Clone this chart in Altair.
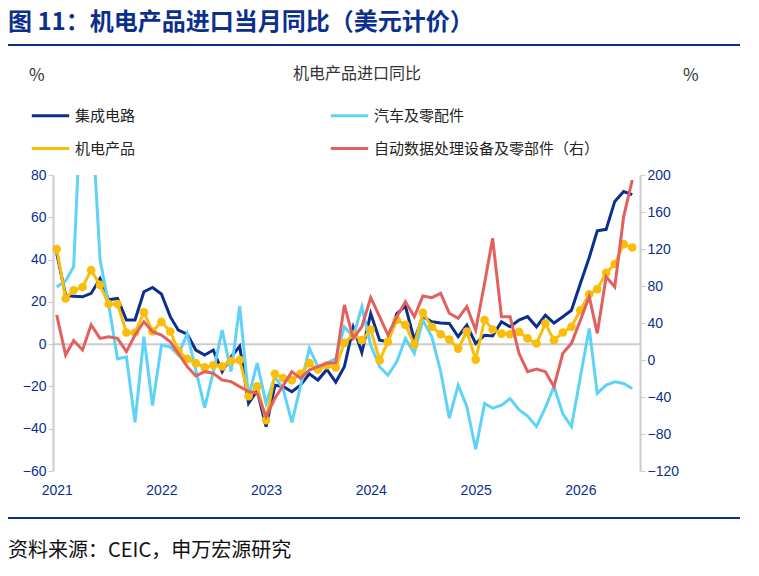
import altair as alt
import pandas as pd

months = pd.date_range("2021-01-01", periods=67, freq="MS")

# 集成电路 (left axis, %)
ic = [43, 23, 22.7, 22.4, 24, 31, 21, 21.6, 11.4, 11.4, 24.8, 26.8, 23.7, 13, 6.6, 4.7,
      -2.8, -5.2, -2.8, -13, -6, -1, -28, -22, -39, -19.4, -20, -22.5, -19.4, -14, -17, -12,
      -18, -10.7, 8, -4, 14.5, 1.9, 1.1, 14.5, 18, 1.9, 13, 10.6, 10, 9.8, 3.5, 9, 0.3, 4.2,
      3.9, 10.6, 8.2, 11.4, 13, 8.2, 13.7, 10, 13, 16, 28.7, 41, 53.6, 54.3, 67.5, 72.2, 70.7]
# 汽车及零配件 (left axis, %)
auto = [27, 30, 36.6, 130, 115, 40, 19, -7, -6, -37, 3.5, -29, -0.5, -1.3, -5.2, 5,
        -12.3, -30, -13, 6.6, -13, 18, -25, -9, -28, -15.5, -21, -37, -20, -2, -10.7, -9,
        -6.8, 8.2, 3.5, 17.7, -0.5, -10.7, -14.7, -8.3, 2.7, -4.4, 11.4, 3.5, -13, -35, -19.4,
        -29.5, -49.7, -28, -30.3, -28.9, -25.7, -31, -34, -39, -30, -20, -33, -39, -15.5, 7.4,
        -23.3, -19.4, -17.8, -18.6, -21]
# 机电产品 (left axis, %)
mech = [45, 21.6, 25.5, 27, 35, 28, 19, 19, 5.5, 5.5, 15, 6, 10.5, 6, -3, -7, -9, -11,
        -10, -10.5, -8, -7.5, -24.6, -20, -36, -14, -16, -17, -14, -9, -12, -10, -11, 0.6,
        4.4, 1.9, 6.9, -7.6, 1.1, 11.4, 9.1, -0.2, 14.8, 8.2, 4.7, 2.2, -2.1, 6.0, -7.3, 11.4,
        6.9, 5.0, 4.7, 5.8, 2.7, 0.3, 9.8, 1.9, 5.5, 8.2, 16, 23.6, 26, 33.7, 37.9, 47.3, 45.7]
# 自动数据处理设备及零部件 (right axis, %)
adp = [48.6, 5.4, 21, 10.8, 38, 23.4, 25, 23.4, 9, 27, 41.4, 30.6, 27, 19.8, 7.2, -7.2,
       -17.3, -12.6, -14.4, -21.6, -23.4, -28.8, -34.2, -36, -61, -41.4, -28, -12.6, -19.8,
       -10.8, -7.2, -3.6, -2.9, 59.5, 23.4, 36, 67.4, 46.8, 27, 46.8, 63, 46.8, 69.2, 67.4,
       72, 50.5, 45, 57.7, 32.4, 83, 131.5, 46.8, 46.8, 7.2, -12.6, -9.7, -12.6, -28.8, 7.2,
       18, 43, 68.5, 28.8, 90, 79, 155, 194.6]

# legend fills column by column
names = ["集成电路", "机电产品", "汽车及零配件", "自动数据处理设备及零部件（右）"]
colors = ["#0b2f8c", "#f9bd0b", "#5fd3f7", "#e2605e"]
navy = "#0b2f8c"

left_df = pd.concat([
    pd.DataFrame({"month": months, "value": ic, "series": "集成电路"}),
    pd.DataFrame({"month": months, "value": auto, "series": "汽车及零配件"}),
    pd.DataFrame({"month": months, "value": mech, "series": "机电产品"}),
    pd.DataFrame({"month": months[:1], "value": [0], "series": "zero"}).iloc[0:0],
])
right_df = pd.DataFrame({"month": months, "value": adp, "series": names[3]})
mech_df = left_df[left_df.series == "机电产品"]

xs = alt.X("month:T", scale=alt.Scale(domain=["2020-12-19", "2026-07-28"]),
           axis=alt.Axis(format="%Y", tickCount={"interval": "year", "step": 1}, title=None,
                         domain=False, ticks=False, grid=False, labelColor=navy,
                         labelFontSize=14, labelPadding=12, labelAlign="center"))
color = alt.Color("series:N", scale=alt.Scale(domain=names, range=colors),
                  legend=alt.Legend(title=None, orient="none", legendX=-23, legendY=-80,
                                    columns=2, columnPadding=188, rowPadding=4,
                                    symbolType="stroke", symbolSize=1400, symbolStrokeWidth=3,
                                    labelFontSize=15, labelColor="#222", labelLimit=300))
lscale = alt.Scale(domain=[-60, 80], nice=False)
yl = alt.Y("value:Q", scale=lscale,
           axis=alt.Axis(values=list(range(-60, 81, 20)), title=None, grid=False,
                         labelColor=navy, labelFontSize=14, domainColor="#ccc",
                         tickColor="#ccc", domainWidth=2))
yr = alt.Y("value:Q", scale=alt.Scale(domain=[-120, 200], nice=False),
           axis=alt.Axis(orient="right", values=list(range(-120, 201, 40)), title=None,
                         grid=False, labelColor=navy, labelFontSize=14, domainColor="#ccc",
                         tickColor="#ccc", domainWidth=2))

lines_left = alt.Chart(left_df).mark_line(strokeWidth=3, clip=True).encode(
    x=xs, y=yl, color=color, order=alt.Order("month:T"))
zero = alt.Chart(pd.DataFrame({"value": [0]})).mark_rule(color="#ccc", strokeWidth=2).encode(
    y=alt.Y("value:Q", scale=lscale))
dots = alt.Chart(mech_df).mark_circle(size=75, opacity=1, color=colors[1]).encode(
    x="month:T", y=alt.Y("value:Q", scale=lscale))
left = alt.layer(zero, lines_left, dots)
lines_right = alt.Chart(right_df).mark_line(strokeWidth=3).encode(x="month:T", y=yr, color=color)

plot = alt.layer(left, lines_right).resolve_scale(y="independent")


def txt(s, x, y, size, **kw):
    return alt.Chart(pd.DataFrame({"t": [s]})).mark_text(
        fontSize=size, align=kw.pop("align", "left"), baseline="middle", **kw
    ).encode(text="t:N", x=alt.value(x), y=alt.value(y))


def hline(y, w):
    return alt.Chart(pd.DataFrame({"a": [0]})).mark_rule(color=navy, strokeWidth=w).encode(
        x=alt.value(-53), x2=alt.value(697), y=alt.value(y))


deco = alt.layer(
    txt("图 11：机电产品进口当月同比（美元计价）", -45, -152, 24, fontWeight="bold", color=navy),
    hline(-130, 2),
    txt("机电产品进口同比", 304, -101, 16, align="center", color="#333"),
    txt("%", -24, -99, 17, color="#333"),
    txt("%", 630, -99, 17, color="#333"),
    hline(343, 2),
    txt("资料来源：CEIC，申万宏源研究", -45, 376, 20, color="#111"),
)

chart = alt.layer(plot, deco).properties(
    width=587, height=296,
    autosize=alt.AutoSizeParams(type="none"),
    padding={"left": 45, "top": 167, "right": 100, "bottom": 90},
    background="white",
).configure_view(stroke=None).configure_text(font="Noto Sans CJK SC").configure_axis(
    labelFont="Arial").configure_legend(labelFont="Noto Sans CJK SC")

chart.save("out.html", embed_options={"renderer": "svg", "actions": False})
